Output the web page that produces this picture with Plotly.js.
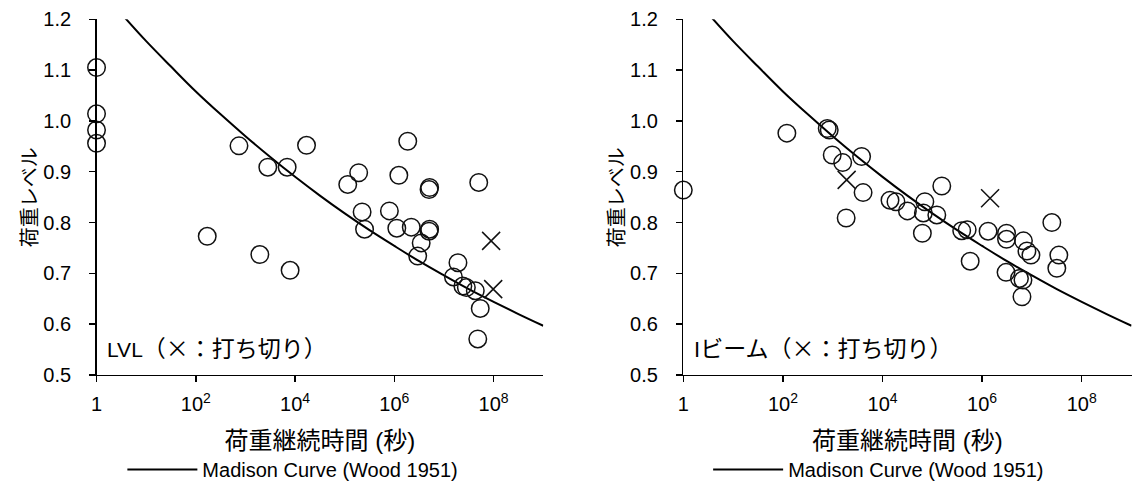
<!DOCTYPE html>
<html>
<head>
<meta charset="utf-8">
<script src="https://cdn.plot.ly/plotly-3.0.1.min.js"></script>
<style>html,body{margin:0;padding:0;background:#fff;}#chart{width:1133px;height:489px;}</style>
</head>
<body>
<div id="chart"></div>
<script>
// Load duration (seconds) and load level
var lvlCircleT = [1, 1, 1, 1, 170, 741, 1950, 2820, 6920, 7940, 17000, 115000, 191000, 224000, 251000, 794000, 1120000, 1230000, 1860000, 2190000, 2950000, 3470000, 5130000, 5000000, 5130000, 5000000, 15500000, 19100000, 24000000, 28200000, 42700000, 47900000, 50100000, 53700000];
var lvlCircleLevel = [1.105, 1.014, 0.982, 0.956, 0.773, 0.951, 0.737, 0.909, 0.909, 0.706, 0.952, 0.875, 0.898, 0.821, 0.787, 0.823, 0.789, 0.893, 0.960, 0.791, 0.734, 0.760, 0.869, 0.865, 0.787, 0.783, 0.693, 0.721, 0.675, 0.672, 0.666, 0.571, 0.879, 0.631];
var lvlCensorT = [89000000, 98000000];
var lvlCensorLevel = [0.764, 0.669];

var ibeamCircleT = [1, 120, 776, 851, 977, 1585, 3802, 4074, 1862, 14125, 18621, 31623, 63096, 66069, 70795, 123027, 154882, 389045, 501187, 575440, 1318000, 3020000, 3090000, 3090000, 5620000, 6610000, 6310000, 6760000, 7940000, 9550000, 25100000, 31600000, 34700000];
var ibeamCircleLevel = [0.864, 0.976, 0.985, 0.982, 0.933, 0.918, 0.930, 0.859, 0.809, 0.844, 0.841, 0.823, 0.779, 0.819, 0.841, 0.815, 0.872, 0.784, 0.786, 0.724, 0.783, 0.702, 0.779, 0.767, 0.690, 0.687, 0.654, 0.764, 0.744, 0.736, 0.800, 0.710, 0.736];
var ibeamCensorT = [1905, 1445000];
var ibeamCensorLevel = [0.884, 0.848];

// Madison curve (Wood 1951)
var madisonT = [1, 3.16, 10, 31.6, 100, 316, 1000, 3160, 10000, 31600, 100000, 316000, 1000000, 3160000, 10000000, 31600000, 100000000, 316000000, 1000000000];
var madisonLevel = [1.267, 1.211, 1.157, 1.107, 1.058, 1.013, 0.970, 0.929, 0.890, 0.853, 0.818, 0.785, 0.754, 0.724, 0.696, 0.669, 0.644, 0.620, 0.597];

var tickVals = [1, 100, 10000, 1000000, 100000000];
var tickText = ['1', '10<sup>2</sup>', '10<sup>4</sup>', '10<sup>6</sup>', '10<sup>8</sup>'];
var yTitle = '荷重レベル';
var xTitle = '荷重継続時間 (秒)';
var curveName = 'Madison Curve (Wood 1951)';
var panelLabels = [
  '<span style="font-family:Liberation Sans;font-size:21px">LVL</span>（×：打ち切り）',
  '<span style="font-family:Liberation Sans;font-size:22px">I</span>ビーム（×：打ち切り）'
];

var FONT = 'Liberation Sans, Arial, "Noto Sans CJK JP", sans-serif';
var CJK = '"Noto Sans CJK JP", Liberation Sans, sans-serif';
var circleMarker = {symbol: 'circle-open', size: 17.5, color: '#111', line: {width: 1.5, color: '#111'}};
var crossMarker = {symbol: 'x-thin-open', size: 18, color: '#111', line: {width: 1.5, color: '#111'}};

var traces = [
  {x: madisonT, y: madisonLevel, xaxis: 'x', yaxis: 'y', mode: 'lines', line: {color: '#000', width: 2, shape: 'spline'}, name: curveName, legend: 'legend', showlegend: true, hoverinfo: 'skip'},
  {x: lvlCircleT, y: lvlCircleLevel, xaxis: 'x', yaxis: 'y', mode: 'markers', marker: circleMarker, cliponaxis: false, showlegend: false},
  {x: lvlCensorT, y: lvlCensorLevel, xaxis: 'x', yaxis: 'y', mode: 'markers', marker: crossMarker, cliponaxis: false, showlegend: false},
  {x: madisonT, y: madisonLevel, xaxis: 'x2', yaxis: 'y2', mode: 'lines', line: {color: '#000', width: 2, shape: 'spline'}, name: curveName, legend: 'legend2', showlegend: true, hoverinfo: 'skip'},
  {x: ibeamCircleT, y: ibeamCircleLevel, xaxis: 'x2', yaxis: 'y2', mode: 'markers', marker: circleMarker, cliponaxis: false, showlegend: false},
  {x: ibeamCensorT, y: ibeamCensorLevel, xaxis: 'x2', yaxis: 'y2', mode: 'markers', marker: crossMarker, cliponaxis: false, showlegend: false}
];

function xAxis(dom, anchor) {
  return {domain: dom, anchor: anchor, type: 'log', range: [0, 9], tickvals: tickVals, ticktext: tickText,
    ticks: 'outside', ticklen: 6, tickwidth: 1.4, tickcolor: '#000', showline: true, linecolor: '#000', linewidth: 1.4,
    showgrid: false, zeroline: false, tickfont: {size: 20, color: '#000', family: FONT}, ticklabelstandoff: 5,
    title: {text: xTitle, font: {size: 24, color: '#000', family: FONT}, standoff: 17}};
}
function yAxis(anchor) {
  return {domain: [0.2331, 0.9605], anchor: anchor, range: [0.5, 1.2], dtick: 0.1, tick0: 0.5, tickformat: '.1f',
    ticks: 'outside', ticklen: 6, tickwidth: 1.4, tickcolor: '#000', showline: true, linecolor: '#000', linewidth: 1.4,
    showgrid: false, zeroline: false, tickfont: {size: 20, color: '#000', family: FONT}, ticklabelstandoff: 14,
    title: {text: yTitle, font: {size: 20, color: '#000', family: FONT}, standoff: 0}};
}

var layout = {
  width: 1133, height: 489, margin: {l: 0, r: 0, t: 0, b: 0},
  paper_bgcolor: '#fff', plot_bgcolor: '#fff', font: {family: FONT, color: '#000', size: 20},
  xaxis: xAxis([0.0852, 0.4795], 'y'),
  yaxis: yAxis('x'),
  xaxis2: xAxis([0.6031, 0.9987], 'y2'),
  yaxis2: yAxis('x2'),
  legend: {x: 0.108, y: 0.039, xanchor: 'left', yanchor: 'middle', itemwidth: 70, bgcolor: 'rgba(0,0,0,0)', font: {size: 20, family: FONT, color: '#000'}},
  legend2: {x: 0.625, y: 0.039, xanchor: 'left', yanchor: 'middle', itemwidth: 70, bgcolor: 'rgba(0,0,0,0)', font: {size: 20, family: FONT, color: '#000'}},
  annotations: [
    {xref: 'x domain', yref: 'y domain', x: 0.02, y: 0.079, xanchor: 'left', yanchor: 'middle', text: panelLabels[0], showarrow: false, font: {size: 23, family: CJK, color: '#000'}},
    {xref: 'x2 domain', yref: 'y2 domain', x: 0.02, y: 0.079, xanchor: 'left', yanchor: 'middle', text: panelLabels[1], showarrow: false, font: {size: 23, family: CJK, color: '#000'}}
  ],
  showlegend: true
};

Plotly.newPlot('chart', traces, layout, {staticPlot: true, displayModeBar: false});
</script>
</body>
</html>
